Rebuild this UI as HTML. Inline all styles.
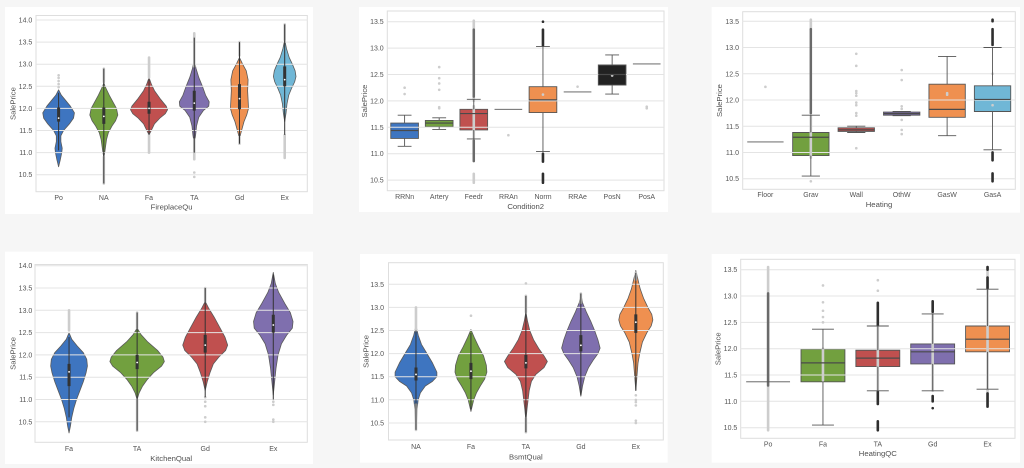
<!DOCTYPE html>
<html><head><meta charset="utf-8">
<style>
html,body{margin:0;padding:0;background:#f6f6f6;}
svg{display:block}
text{font-family:"Liberation Sans",Arial,sans-serif;fill:#555;}
.t{font-size:7px}
.yt{text-anchor:end}
.xt{text-anchor:middle}
.al{font-size:7.7px;text-anchor:middle;fill:#505050}
.d path{vector-effect:non-scaling-stroke}
.v{stroke:#5a5a5a;stroke-width:0.8;stroke-linejoin:round}
.wl{stroke:#333;stroke-width:1;fill:none}
.bx{stroke:#333;stroke-width:3;fill:none}
.md{stroke:#fff;stroke-width:1.8;stroke-linecap:round;fill:none}
.ld{stroke:#cdcdcd;stroke-width:2.6;stroke-linecap:round;fill:none}
.gd{stroke:#6a6a6a;stroke-width:2.5;stroke-linecap:round;fill:none}
.dd{stroke:#2e2e2e;stroke-width:2.6;stroke-linecap:round;fill:none}
.bp{stroke:#555;stroke-width:0.9}
.wk{stroke:#555;stroke-width:0.9;fill:none}
.me{stroke:#4a4a4a;stroke-width:1.2;fill:none}
.g{stroke:#e4e4e4;stroke-width:1;fill:none}
.sp{fill:#fff;stroke:#dedede;stroke-width:1}
</style></head><body>
<svg width="1024" height="468" viewBox="0 0 1024 468">
<rect width="1024" height="468" fill="#f6f6f6"/>
<!-- cards -->
<rect x="5" y="7" width="308" height="207" fill="#fff"/>
<rect x="359" y="7" width="309" height="205" fill="#fff"/>
<rect x="711.7" y="7" width="308.3" height="205.7" fill="#fff"/>
<rect x="5" y="251.7" width="308" height="212.3" fill="#fff"/>
<rect x="360" y="254" width="307.7" height="208.7" fill="#fff"/>
<rect x="711.7" y="254" width="308.3" height="208.7" fill="#fff"/>

<!-- ================= PANEL 1 FireplaceQu ================= -->
<rect class="sp" x="36" y="15.5" width="271.3" height="176.2"/>
<g class="d" transform="matrix(45.22,0,0,-44.2,58.6,638.8)">
<path class="v" fill="#3e75c0" d="M0,12.42L.06,12.3L.14,12.2L.26,12.05L.35,11.9L.33,11.78L.24,11.65L.11,11.5L.05,11.38L.05,11.25L.08,11.1L.07,11L.04,10.85L0,10.68L-.04,10.85L-.07,11L-.08,11.1L-.05,11.25L-.05,11.38L-.11,11.5L-.24,11.65L-.33,11.78L-.35,11.9L-.26,12.05L-.14,12.2L-.06,12.3Z"/>
<path class="v" fill="#72a03f" transform="translate(1,0)" d="M0,12.57L.05,12.45L.12,12.3L.2,12.15L.28,12L.31,11.85L.26,11.72L.18,11.6L.1,11.45L.06,11.3L.04,11.15L.02,11L0,10.9L-.02,11L-.04,11.15L-.06,11.3L-.1,11.45L-.18,11.6L-.26,11.72L-.31,11.85L-.28,12L-.2,12.15L-.12,12.3L-.05,12.45Z"/>
<path class="v" fill="#c0504f" transform="translate(2,0)" d="M0,12.7L.05,12.55L.12,12.4L.26,12.2L.38,12.05L.41,11.97L.36,11.88L.24,11.78L.12,11.65L.05,11.5L0,11.4L-.05,11.5L-.12,11.65L-.24,11.78L-.36,11.88L-.41,11.97L-.38,12.05L-.26,12.2L-.12,12.4L-.05,12.55Z"/>
<path class="v" fill="#7f6fae" transform="translate(3,0)" d="M0,13.1L.04,12.9L.1,12.7L.18,12.5L.25,12.3L.33,12.15L.32,12.05L.2,11.95L.1,11.8L.05,11.6L.03,11.4L0,11.2L-.03,11.4L-.05,11.6L-.1,11.8L-.2,11.95L-.32,12.05L-.33,12.15L-.25,12.3L-.18,12.5L-.1,12.7L-.04,12.9Z"/>
<path class="v" fill="#ef9050" transform="translate(4,0)" d="M0,13.15L.07,13L.15,12.85L.19,12.65L.18,12.4L.19,12.2L.2,12L.16,11.85L.1,11.7L.06,11.55L.02,11.4L0,11.3L-.02,11.4L-.06,11.55L-.1,11.7L-.16,11.85L-.2,12L-.19,12.2L-.18,12.4L-.19,12.65L-.15,12.85L-.07,13Z"/>
<path class="v" fill="#70b7d6" transform="translate(5,0)" d="M0,13.55L.04,13.35L.1,13.15L.17,13L.23,12.85L.25,12.72L.22,12.6L.15,12.45L.09,12.3L.05,12.1L.03,11.9L0,11.7L-.03,11.9L-.05,12.1L-.09,12.3L-.15,12.45L-.22,12.6L-.25,12.72L-.23,12.85L-.17,13L-.1,13.15L-.04,13.35Z"/>
</g>
<path class="g" d="M36,20H307.3M36,42.1H307.3M36,64.2H307.3M36,86.3H307.3M36,108.4H307.3M36,130.5H307.3M36,152.6H307.3M36,174.7H307.3"/>
<g class="d" transform="matrix(45.22,0,0,-44.2,58.6,638.8)">
<path class="ld" d="M0,12.48h.001M0,12.55h.001M0,12.62h.001M0,12.69h.001M0,12.75h.001M1,12.6V12.9M1,10.3V10.9M2,12.7V13.15M2,11.0V11.4M3,12.95V13.7M3,10.85V11.3M3,10.45h.001M3,10.55h.001M4,13.2V13.5M4,11.2V11.35M5,10.88V11.4M5,13.55V13.9"/>
<path class="wl" d="M0,11.05V12.35M1,10.3V12.9M2,11.4V12.65M3,11.0V13.6M4,11.2V13.5M5,11.4V13.9"/>
<path class="bx" d="M0,11.7V12.02M1,11.65V12.02M2,11.88V12.15M3,11.95V12.4M4,11.98V12.55M5,12.5V12.95"/>
<path class="md" d="M0,11.78h.001M1,11.82h.001M2,12h.001M3,12.12h.001M4,12.22h.001M5,12.65h.001"/>
</g>
<g class="t yt">
<text x="32.3" y="22.5">14.0</text><text x="32.3" y="44.6">13.5</text><text x="32.3" y="66.7">13.0</text><text x="32.3" y="88.8">12.5</text><text x="32.3" y="110.9">12.0</text><text x="32.3" y="133">11.5</text><text x="32.3" y="155.1">11.0</text><text x="32.3" y="177.2">10.5</text>
</g>
<g class="t xt">
<text x="58.6" y="199.8">Po</text><text x="103.8" y="199.8">NA</text><text x="149" y="199.8">Fa</text><text x="194.3" y="199.8">TA</text><text x="239.5" y="199.8">Gd</text><text x="284.7" y="199.8">Ex</text>
</g>
<text class="al" x="171.6" y="209.5">FireplaceQu</text>
<text class="al" transform="translate(15.5,103.6) rotate(-90)">SalePrice</text>

<!-- ================= PANEL 2 Condition2 ================= -->
<rect class="sp" x="387.3" y="11" width="276.7" height="179.7"/>
<g class="d" transform="matrix(34.59,0,0,-52.8,404.6,734.5)">
<path class="bp" fill="#3e75c0" d="M-.4,11.29H.4V11.58H-.4Z"/>
<path class="bp" fill="#72a03f" d="M.6,11.51H1.4V11.63H.6Z"/>
<path class="bp" fill="#c0504f" d="M1.6,11.45H2.4V11.84H1.6Z"/>
<path class="bp" fill="#ef9050" d="M3.6,11.78H4.4V12.27H3.6Z"/>
<path class="bp" fill="#222" d="M5.6,12.3H6.4V12.68H5.6Z"/>
</g>
<path class="g" d="M387.3,21.7H664M387.3,48.1H664M387.3,74.5H664M387.3,100.9H664M387.3,127.3H664M387.3,153.7H664M387.3,180.1H664"/>
<g class="d" transform="matrix(34.59,0,0,-52.8,404.6,734.5)">
<path class="ld" d="M0,12.25h.001M0,12.13h.001M1,12.64h.001M1,12.43h.001M1,12.33h.001M1,12.21h.001M1,11.88h.001M1,11.86h.001M2,12.0V13.52M2,10.45V10.62M2,11.3V11.9M3,11.35h.001M4,12.12h.001M5,12.27h.001M6,12.48h.001M7,11.89h.001M7,11.86h.001"/>
<path class="gd" d="M2,12.08V13.35M2,10.86V11.25"/>
<path class="dd" d="M4,13.05V13.35M4,13.5h.001M4,10.85V11.0M4,10.45V10.62"/>
<path class="wk" d="M0,11.14V11.29M0,11.58V11.73M-.2,11.14H.2M-.2,11.73H.2M1,11.46V11.51M1,11.63V11.68M.8,11.46H1.2M.8,11.68H1.2M2,11.28V11.45M2,11.84V12.03M1.8,11.28H2.2M1.8,12.03H2.2M2.6,11.84H3.4M4,11.04V11.78M4,12.27V13.03M3.8,11.04H4.2M3.8,13.03H4.2M4.6,12.17H5.4M6,12.13V12.3M6,12.68V12.87M5.8,12.13H6.2M5.8,12.87H6.2M6.6,12.7H7.4"/>
<path class="me" d="M-.4,11.44H.4M.6,11.58H1.4M1.6,11.76H2.4M3.6,12.02H4.4M5.6,12.5H6.4"/>
</g>
<g class="t yt">
<text x="383.7" y="24.2">13.5</text><text x="383.7" y="50.6">13.0</text><text x="383.7" y="77">12.5</text><text x="383.7" y="103.4">12.0</text><text x="383.7" y="129.8">11.5</text><text x="383.7" y="156.2">11.0</text><text x="383.7" y="182.6">10.5</text>
</g>
<g class="t xt">
<text x="404.6" y="199.2">RRNn</text><text x="439.2" y="199.2">Artery</text><text x="473.8" y="199.2">Feedr</text><text x="508.4" y="199.2">RRAn</text><text x="543" y="199.2">Norm</text><text x="577.6" y="199.2">RRAe</text><text x="612.1" y="199.2">PosN</text><text x="646.7" y="199.2">PosA</text>
</g>
<text class="al" x="525.7" y="208.8">Condition2</text>
<text class="al" transform="translate(366.8,101) rotate(-90)">SalePrice</text>

<!-- ================= PANEL 3 Heating ================= -->
<rect class="sp" x="742.7" y="11.7" width="272.6" height="177.6"/>
<g class="d" transform="matrix(45.43,0,0,-52.47,765.4,729.6)">
<path class="bp" fill="#72a03f" d="M.6,10.94H1.4V11.38H.6Z"/>
<path class="bp" fill="#c0504f" d="M1.6,11.4H2.4V11.47H1.6Z"/>
<path class="bp" fill="#7f6fae" d="M2.6,11.71H3.4V11.77H2.6Z"/>
<path class="bp" fill="#ef9050" d="M3.6,11.67H4.4V12.3H3.6Z"/>
<path class="bp" fill="#70b7d6" d="M4.6,11.78H5.4V12.27H4.6Z"/>
</g>
<path class="g" d="M742.7,21.3H1015.3M742.7,47.5H1015.3M742.7,73.8H1015.3M742.7,100H1015.3M742.7,126.3H1015.3M742.7,152.5H1015.3M742.7,178.7H1015.3"/>
<g class="d" transform="matrix(45.43,0,0,-52.47,765.4,729.6)">
<path class="ld" d="M0,12.25h.001M1,13.35V13.53M1,10.45h.001M1,10.9V11.7M2,12.88h.001M2,12.65h.001M2,12.17h.001M2,12.13h.001M2,12.08h.001M2,11.95h.001M2,11.9h.001M2,11.75h.001M2,11.7h.001M2,11.08h.001M3,12.57h.001M3,12.38h.001M3,11.88h.001M3,11.83h.001M3,11.62h.001M3,11.43h.001M3,11.35h.001M4,12.1h.001M4,12.13h.001M5,12.5h.001M5,11.9h.001"/>
<path class="gd" d="M1,11.75V13.35"/>
<path class="dd" d="M5,13.05V13.35M5,13.5V13.53M5,10.85V11.0M5,10.45V10.6"/>
<path class="wk" d="M-.4,11.2H.4M1,10.55V10.94M1,11.38V11.71M.8,10.55H1.2M.8,11.71H1.2M2,11.38V11.4M2,11.47V11.5M1.8,11.38H2.2M1.8,11.5H2.2M2.8,11.7H3.2M2.8,11.78H3.2M4,11.32V11.67M4,12.3V12.83M3.8,11.32H4.2M3.8,12.83H4.2M5,11.05V11.78M5,12.27V13.0M4.8,11.05H5.2M4.8,13H5.2"/>
<path class="me" d="M.6,11.29H1.4M1.6,11.43H2.4M2.6,11.74H3.4M3.6,11.82H4.4M4.6,12.01H5.4"/>
</g>
<g class="t yt">
<text x="739" y="23.8">13.5</text><text x="739" y="50">13.0</text><text x="739" y="76.3">12.5</text><text x="739" y="102.5">12.0</text><text x="739" y="128.8">11.5</text><text x="739" y="155">11.0</text><text x="739" y="181.2">10.5</text>
</g>
<g class="t xt">
<text x="765.4" y="196.8">Floor</text><text x="810.8" y="196.8">Grav</text><text x="856.3" y="196.8">Wall</text><text x="901.7" y="196.8">OthW</text><text x="947.1" y="196.8">GasW</text><text x="992.6" y="196.8">GasA</text>
</g>
<text class="al" x="879" y="206.8">Heating</text>
<text class="al" transform="translate(722.1,100.5) rotate(-90)">SalePrice</text>

<!-- ================= PANEL 4 KitchenQual ================= -->
<rect class="sp" x="35" y="264.5" width="272.3" height="177.8"/>
<g class="d" transform="matrix(68.08,0,0,-44.6,69.04,890.1)">
<path class="v" fill="#3e75c0" d="M0,12.5L.04,12.35L.12,12.2L.21,12.05L.26,11.9L.27,11.75L.25,11.6L.21,11.4L.16,11.2L.11,11L.07,10.8L.04,10.6L.02,10.4L0,10.25L-.02,10.4L-.04,10.6L-.07,10.8L-.11,11L-.16,11.2L-.21,11.4L-.25,11.6L-.27,11.75L-.26,11.9L-.21,12.05L-.12,12.2L-.04,12.35Z"/>
<path class="v" fill="#72a03f" transform="translate(1,0)" d="M0,12.6L.06,12.45L.15,12.3L.3,12.1L.38,11.95L.4,11.85L.36,11.75L.24,11.6L.15,11.45L.08,11.3L.03,11.15L0,11L-.03,11.15L-.08,11.3L-.15,11.45L-.24,11.6L-.36,11.75L-.4,11.85L-.38,11.95L-.3,12.1L-.15,12.3L-.06,12.45Z"/>
<path class="v" fill="#c0504f" transform="translate(2,0)" d="M0,13.2L.05,13.05L.13,12.85L.22,12.6L.29,12.4L.33,12.22L.3,12.1L.2,11.95L.12,11.8L.07,11.6L.03,11.4L0,11.2L-.03,11.4L-.07,11.6L-.12,11.8L-.2,11.95L-.3,12.1L-.33,12.22L-.29,12.4L-.22,12.6L-.13,12.85L-.05,13.05Z"/>
<path class="v" fill="#7f6fae" transform="translate(3,0)" d="M0,13.85L.03,13.6L.08,13.4L.17,13.15L.25,12.95L.29,12.75L.28,12.6L.2,12.45L.12,12.25L.07,12L.04,11.7L.02,11.4L0,11.1L-.02,11.4L-.04,11.7L-.07,12L-.12,12.25L-.2,12.45L-.28,12.6L-.29,12.75L-.25,12.95L-.17,13.15L-.08,13.4L-.03,13.6Z"/>
</g>
<path class="g" d="M35,265.7H307.3M35,288H307.3M35,310.3H307.3M35,332.6H307.3M35,354.9H307.3M35,377.2H307.3M35,399.5H307.3M35,421.8H307.3"/>
<g class="d" transform="matrix(68.08,0,0,-44.6,69.04,890.1)">
<path class="ld" d="M0,12.55V13.0M1,12.6V12.95M1,10.3V11.0M2,13.2V13.5M2,10.5h.001M2,10.6h.001M2,10.85h.001M2,10.95h.001M2,11.05h.001M3,10.5h.001M3,10.55h.001M3,10.88h.001M3,10.95h.001"/>
<path class="wl" d="M0,10.6V12.4M1,10.3V12.95M2,11.05V13.5M3,11.0V13.8"/>
<path class="bx" d="M0,11.3V11.8M1,11.68V12M2,12.05V12.45M3,12.5V12.9"/>
<path class="md" d="M0,11.62h.001M1,11.83h.001M2,12.22h.001M3,12.67h.001"/>
</g>
<g class="t yt">
<text x="32.3" y="268.2">14.0</text><text x="32.3" y="290.5">13.5</text><text x="32.3" y="312.8">13.0</text><text x="32.3" y="335.1">12.5</text><text x="32.3" y="357.4">12.0</text><text x="32.3" y="379.7">11.5</text><text x="32.3" y="402">11.0</text><text x="32.3" y="424.3">10.5</text>
</g>
<g class="t xt">
<text x="69" y="451.2">Fa</text><text x="137.1" y="451.2">TA</text><text x="205.2" y="451.2">Gd</text><text x="273.3" y="451.2">Ex</text>
</g>
<text class="al" x="171.2" y="460.8">KitchenQual</text>
<text class="al" transform="translate(15.5,353.4) rotate(-90)">SalePrice</text>

<!-- ================= PANEL 5 BsmtQual ================= -->
<rect class="sp" x="388.5" y="262.7" width="274.8" height="177.3"/>
<g class="d" transform="matrix(54.96,0,0,-46.23,415.98,908.4)">
<path class="v" fill="#3e75c0" d="M0,12.6L.04,12.4L.1,12.2L.2,12L.3,11.8L.38,11.6L.38,11.5L.3,11.4L.17,11.3L.08,11.15L.04,11L.02,10.8L.01,10.5L0,10.35L-.01,10.5L-.02,10.8L-.04,11L-.08,11.15L-.17,11.3L-.3,11.4L-.38,11.5L-.38,11.6L-.3,11.8L-.2,12L-.1,12.2L-.04,12.4Z"/>
<path class="v" fill="#72a03f" transform="translate(1,0)" d="M0,12.52L.06,12.35L.14,12.15L.23,11.95L.28,11.75L.29,11.6L.25,11.45L.17,11.3L.1,11.15L.05,11L.02,10.85L0,10.75L-.02,10.85L-.05,11L-.1,11.15L-.17,11.3L-.25,11.45L-.29,11.6L-.28,11.75L-.23,11.95L-.14,12.15L-.06,12.35Z"/>
<path class="v" fill="#c0504f" transform="translate(2,0)" d="M0,12.9L.03,12.7L.07,12.5L.14,12.3L.24,12.1L.33,11.95L.39,11.83L.33,11.7L.18,11.55L.1,11.4L.06,11.2L.04,11L.02,10.8L0,10.55L-.02,10.8L-.04,11L-.06,11.2L-.1,11.4L-.18,11.55L-.33,11.7L-.39,11.83L-.33,11.95L-.24,12.1L-.14,12.3L-.07,12.5L-.03,12.7Z"/>
<path class="v" fill="#7f6fae" transform="translate(3,0)" d="M0,13.3L.03,13.1L.1,12.9L.18,12.7L.25,12.5L.31,12.3L.35,12.12L.31,12L.22,11.85L.14,11.7L.07,11.5L.03,11.3L0,11.08L-.03,11.3L-.07,11.5L-.14,11.7L-.22,11.85L-.31,12L-.35,12.12L-.31,12.3L-.25,12.5L-.18,12.7L-.1,12.9L-.03,13.1Z"/>
<path class="v" fill="#ef9050" transform="translate(4,0)" d="M0,13.8L.04,13.6L.08,13.4L.14,13.2L.22,13L.29,12.85L.31,12.73L.28,12.6L.2,12.45L.12,12.25L.07,12L.04,11.8L.02,11.5L0,11.2L-.02,11.5L-.04,11.8L-.07,12L-.12,12.25L-.2,12.45L-.28,12.6L-.31,12.73L-.29,12.85L-.22,13L-.14,13.2L-.08,13.4L-.04,13.6Z"/>
</g>
<path class="g" d="M388.5,284.3H663.3M388.5,307.4H663.3M388.5,330.5H663.3M388.5,353.6H663.3M388.5,376.7H663.3M388.5,399.8H663.3M388.5,423H663.3"/>
<g class="d" transform="matrix(54.96,0,0,-46.23,415.98,908.4)">
<path class="ld" d="M0,12.5V13.0M0,10.35V10.9M1,12.82h.001M2,13.52h.001M2,12.9V13.25M2,10.3V10.6M3,13.1V13.3M4,10.5h.001M4,10.55h.001M4,10.88h.001M4,10.95h.001M4,11.0h.001M4,11.1h.001M4,13.6V13.75"/>
<path class="wl" d="M0,10.35V12.5M1,10.8V12.45M2,10.3V13.25M3,11.1V13.3M4,11.2V13.75"/>
<path class="bx" d="M0,11.42V11.7M1,11.45V11.8M2,11.68V11.97M3,12.05V12.4M4,12.45V12.85"/>
<path class="md" d="M0,11.55h.001M1,11.62h.001M2,11.8h.001M3,12.18h.001M4,12.68h.001"/>
</g>
<g class="t yt">
<text x="384" y="286.8">13.5</text><text x="384" y="309.9">13.0</text><text x="384" y="333">12.5</text><text x="384" y="356.1">12.0</text><text x="384" y="379.2">11.5</text><text x="384" y="402.3">11.0</text><text x="384" y="425.5">10.5</text>
</g>
<g class="t xt">
<text x="416" y="449.2">NA</text><text x="470.9" y="449.2">Fa</text><text x="525.9" y="449.2">TA</text><text x="580.9" y="449.2">Gd</text><text x="635.8" y="449.2">Ex</text>
</g>
<text class="al" x="525.9" y="459.5">BsmtQual</text>
<text class="al" transform="translate(368.5,351.4) rotate(-90)">SalePrice</text>

<!-- ================= PANEL 6 HeatingQC ================= -->
<rect class="sp" x="740.7" y="259.3" width="274.3" height="179"/>
<g class="d" transform="matrix(54.86,0,0,-52.67,768.1,980.7)">
<path class="bp" fill="#72a03f" d="M.6,11.37H1.4V11.99H.6Z"/>
<path class="bp" fill="#c0504f" d="M1.6,11.66H2.4V11.97H1.6Z"/>
<path class="bp" fill="#7f6fae" d="M2.6,11.71H3.4V12.09H2.6Z"/>
<path class="bp" fill="#ef9050" d="M3.6,11.94H4.4V12.43H3.6Z"/>
</g>
<path class="g" d="M740.7,269.7H1015M740.7,296H1015M740.7,322.4H1015M740.7,348.7H1015M740.7,375H1015M740.7,401.3H1015M740.7,427.7H1015"/>
<g class="d" transform="matrix(54.86,0,0,-52.67,768.1,980.7)">
<path class="ld" d="M0,10.45V13.55M1,13.2h.001M1,12.88h.001M1,12.72h.001M1,12.6h.001M1,12.5h.001M1,11.4V12.0M2,13.3h.001M2,13.1h.001M2,11.2V12.45M3,11.2V12.7M4,10.9V13.55"/>
<path class="gd" d="M0,11.3V13.05"/>
<path class="dd" d="M2,12.45V12.87M2,10.95V11.18M2,10.45V10.62M3,12.7V12.9M3,11.0V11.1M3,10.87h.001M4,13.15V13.35M4,13.5V13.55M4,10.9V11.15"/>
<path class="wk" d="M-.4,11.37H.4M1,10.55V11.37M1,11.99V12.37M.8,10.55H1.2M.8,12.37H1.2M2,11.2V11.66M2,11.97V12.43M1.8,11.2H2.2M1.8,12.43H2.2M3,11.2V11.71M3,12.09V12.66M2.8,11.2H3.2M2.8,12.66H3.2M4,11.23V11.94M4,12.43V13.13M3.8,11.23H4.2M3.8,13.13H4.2"/>
<path class="me" d="M.6,11.73H1.4M1.6,11.82H2.4M2.6,11.94H3.4M3.6,12.18H4.4"/>
</g>
<g class="t yt">
<text x="737.3" y="272.2">13.5</text><text x="737.3" y="298.5">13.0</text><text x="737.3" y="324.9">12.5</text><text x="737.3" y="351.2">12.0</text><text x="737.3" y="377.5">11.5</text><text x="737.3" y="403.8">11.0</text><text x="737.3" y="430.2">10.5</text>
</g>
<g class="t xt">
<text x="768.1" y="446.5">Po</text><text x="823" y="446.5">Fa</text><text x="877.8" y="446.5">TA</text><text x="932.7" y="446.5">Gd</text><text x="987.5" y="446.5">Ex</text>
</g>
<text class="al" x="877.8" y="456.1">HeatingQC</text>
<text class="al" transform="translate(720.5,348.8) rotate(-90)">SalePrice</text>
</svg>
</body></html>
